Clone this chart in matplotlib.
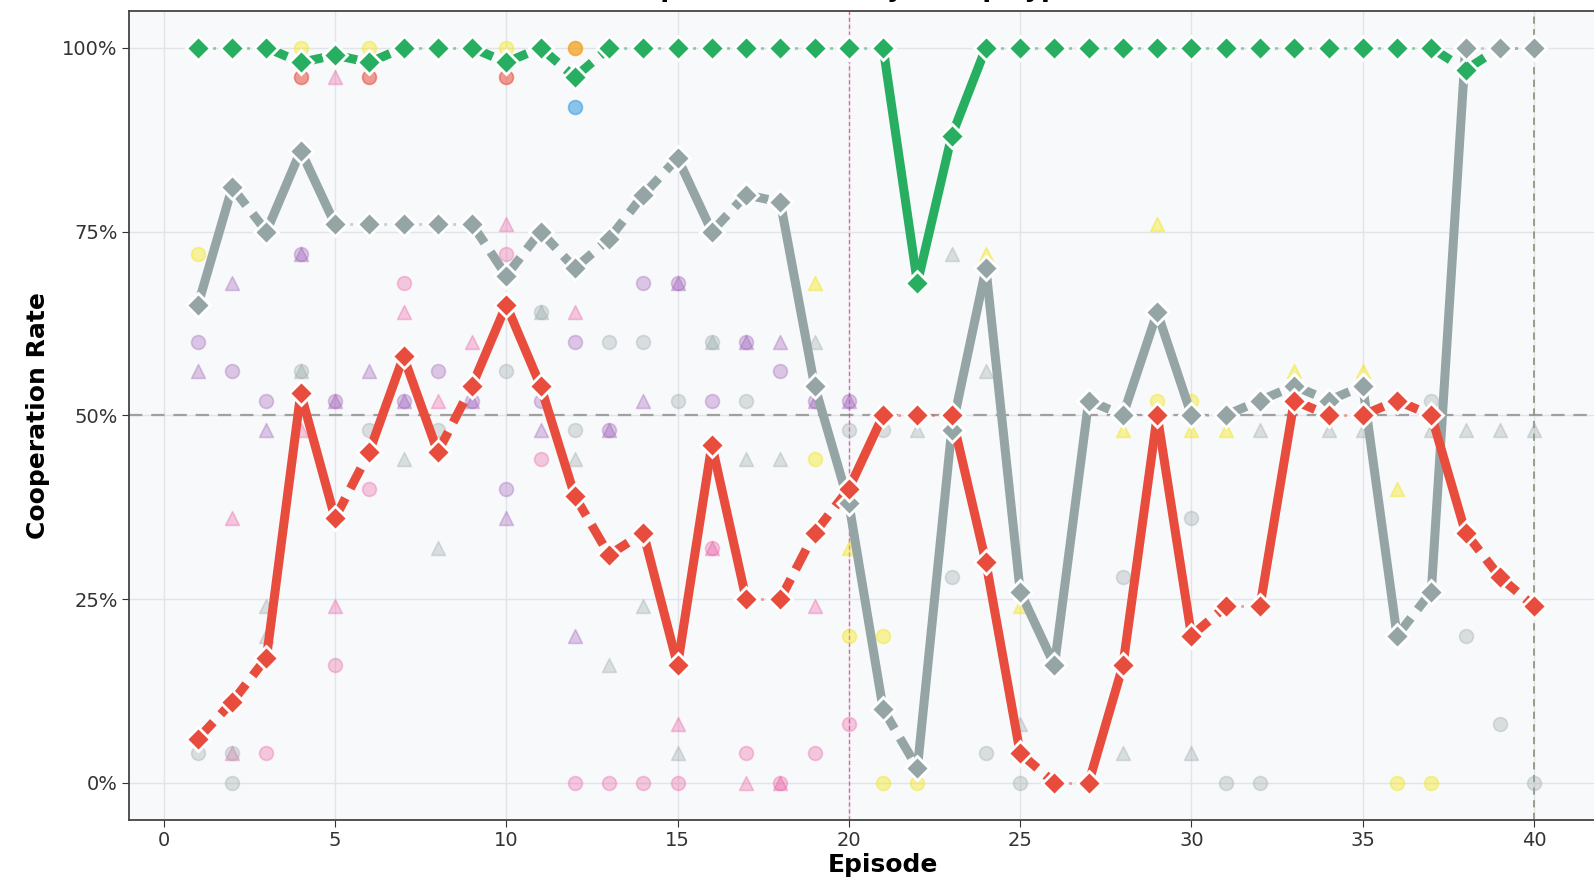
import matplotlib.pyplot as plt
from matplotlib.ticker import PercentFormatter

# --- mean cooperation rate per group (episodes 1..40) ---
episodes = list(range(1, 41))
green_rate = [100, 100, 100, 98, 99, 98, 100, 100, 100, 98,
              100, 96, 100, 100, 100, 100, 100, 100, 100, 100,
              100, 68, 88, 100, 100, 100, 100, 100, 100, 100,
              100, 100, 100, 100, 100, 100, 100, 97, 100, 100]
gray_rate = [65, 81, 75, 86, 76, 76, 76, 76, 76, 69,
             75, 70, 74, 80, 85, 75, 80, 79, 54, 38,
             10, 2, 48, 70, 26, 16, 52, 50, 64, 50,
             50, 52, 54, 52, 54, 20, 26, 100, 100, 100]
red_rate = [6, 11, 17, 53, 36, 45, 58, 45, 54, 65,
            54, 39, 31, 34, 16, 46, 25, 25, 34, 40,
            50, 50, 50, 30, 4, 0, 0, 16, 50, 20,
            24, 24, 52, 50, 50, 52, 50, 34, 28, 24]

# --- individual agents (episode, rate) ---
purple_circles = [(1, 60), (2, 56), (3, 52), (4, 72), (5, 52), (7, 52), (8, 56), (9, 52),
                  (10, 40), (11, 52), (12, 60), (13, 48), (14, 68), (15, 68), (16, 52),
                  (17, 60), (18, 56), (19, 52), (20, 52)]
purple_triangles = [(1, 56), (2, 68), (3, 48), (4, 72), (5, 52), (6, 56), (7, 52), (9, 52),
                    (10, 36), (11, 48), (12, 20), (13, 48), (14, 52), (15, 68), (17, 60),
                    (18, 60), (19, 52), (20, 52)]
pink_circles = [(3, 4), (5, 16), (6, 40), (7, 68), (10, 72), (11, 44), (12, 0), (13, 0),
                (14, 0), (15, 0), (16, 32), (17, 4), (18, 0), (19, 4), (20, 8)]
pink_triangles = [(2, 36), (2, 4), (4, 48), (5, 96), (5, 24), (7, 64), (8, 52), (9, 60),
                  (10, 76), (12, 64), (15, 8), (16, 32), (17, 0), (18, 0), (19, 24)]
gray_circles = [(1, 4), (2, 0), (2, 4), (4, 56), (6, 48), (8, 48), (10, 56), (11, 64),
                (12, 48), (13, 60), (14, 60), (15, 52), (16, 60), (17, 52), (20, 48),
                (21, 48), (23, 28), (24, 4), (25, 0), (28, 28), (30, 36), (31, 0), (32, 0),
                (37, 52), (38, 20), (39, 8), (40, 0)]
gray_triangles = [(3, 24), (3, 20), (4, 56), (7, 44), (8, 32), (11, 64), (12, 44), (13, 16),
                  (14, 24), (15, 4), (16, 60), (17, 44), (18, 44), (19, 60), (22, 48),
                  (23, 72), (24, 56), (25, 8), (28, 4), (30, 4), (32, 48), (34, 48),
                  (35, 48), (37, 48), (38, 48), (39, 48), (40, 48)]
yellow_circles = [(1, 72), (4, 100), (6, 100), (10, 100), (19, 44), (20, 20), (21, 20),
                  (21, 0), (22, 0), (29, 52), (30, 52), (36, 0), (37, 0)]
yellow_triangles = [(19, 68), (20, 32), (24, 72), (25, 24), (28, 48), (29, 76), (30, 48),
                    (31, 48), (33, 56), (35, 56), (36, 40)]
red_circles = [(4, 96), (6, 96), (10, 96)]
orange_circles = [(12, 100)]
blue_circles = [(12, 92)]

GREEN = "#27ae60"
GRAY = "#95a5a6"
RED = "#e74c3c"

fig = plt.figure(figsize=(15.94, 8.94), dpi=100)
ax = fig.add_axes([0.0812, 0.0833, 0.9457, 0.9044])
ax.set_facecolor("#f8f9fb")

# agent scatter (faint)
agent_sets = [
    (purple_circles, "#9b59b6", "o", 0.32),
    (purple_triangles, "#9b59b6", "^", 0.32),
    (pink_circles, "#e84393", "o", 0.28),
    (pink_triangles, "#e84393", "^", 0.28),
    (gray_circles, GRAY, "o", 0.32),
    (gray_triangles, GRAY, "^", 0.32),
    (yellow_circles, "#f4e400", "o", 0.38),
    (yellow_triangles, "#f4e400", "^", 0.38),
    (red_circles, RED, "o", 0.55),
    (orange_circles, "#f39c12", "o", 0.7),
    (blue_circles, "#3498db", "o", 0.55),
]
for pts, col, mk, a in agent_sets:
    xs = [p[0] for p in pts]
    ys = [p[1] for p in pts]
    ax.scatter(xs, ys, s=100, marker=mk, color=col, alpha=a,
               edgecolors=col, linewidths=1.2, zorder=2)

# reference lines
ax.axhline(50, color="#a0a0a0", ls=(0, (6, 4)), lw=1.6, zorder=1)
ax.axvline(20, color="#e84393", ls=(0, (3, 2)), lw=1.0, alpha=0.8, zorder=1)
ax.axvline(40, color="#8c9a80", ls=(0, (4, 3)), lw=1.3, zorder=1)


def draw_series(x, y, col):
    # segment style depends on size of the change
    for i in range(len(x) - 1):
        d = abs(y[i + 1] - y[i])
        if d < 0.5:
            ax.plot(x[i:i + 2], y[i:i + 2], color=col, ls=":", lw=2, alpha=0.5, zorder=3)
        elif d < 10:
            ax.plot(x[i:i + 2], y[i:i + 2], color=col, ls=(0, (2.5, 1.2)), lw=6.5,
                    dash_capstyle="butt", zorder=3)
        else:
            ax.plot(x[i:i + 2], y[i:i + 2], color=col, ls="-", lw=6.5,
                    solid_capstyle="butt", zorder=3)
    ax.plot(x, y, ls="none", marker="D", ms=12.5, mfc=col, mec="white", mew=2, zorder=4)


draw_series(episodes, green_rate, GREEN)
draw_series(episodes, gray_rate, GRAY)
draw_series(episodes, red_rate, RED)

ax.set_xlim(-1, 43)
ax.set_ylim(-5, 105)
ax.set_xticks(range(0, 45, 5))
ax.set_yticks([0, 25, 50, 75, 100])
ax.yaxis.set_major_formatter(PercentFormatter(decimals=0))
ax.grid(True, color="#e2e4e8", lw=1.0, zorder=0)
ax.set_axisbelow(True)
ax.tick_params(labelsize=14, colors="#333333", length=5)
for s in ["left", "bottom", "top"]:
    ax.spines[s].set_color("#444444")
    ax.spines[s].set_linewidth(1.3)

ax.set_xlabel("Episode", fontsize=18, fontweight="bold", labelpad=2)
ax.set_ylabel("Cooperation Rate", fontsize=18, fontweight="bold", labelpad=9)
# title sits mostly above the visible area, as in the cropped original
fig.text(0.5277, 1 + 4 / 894, "Cooperation Rate by Group Type", fontsize=18.5,
         fontweight="bold", ha="center", va="baseline")

fig.savefig("out.png", dpi=100)
